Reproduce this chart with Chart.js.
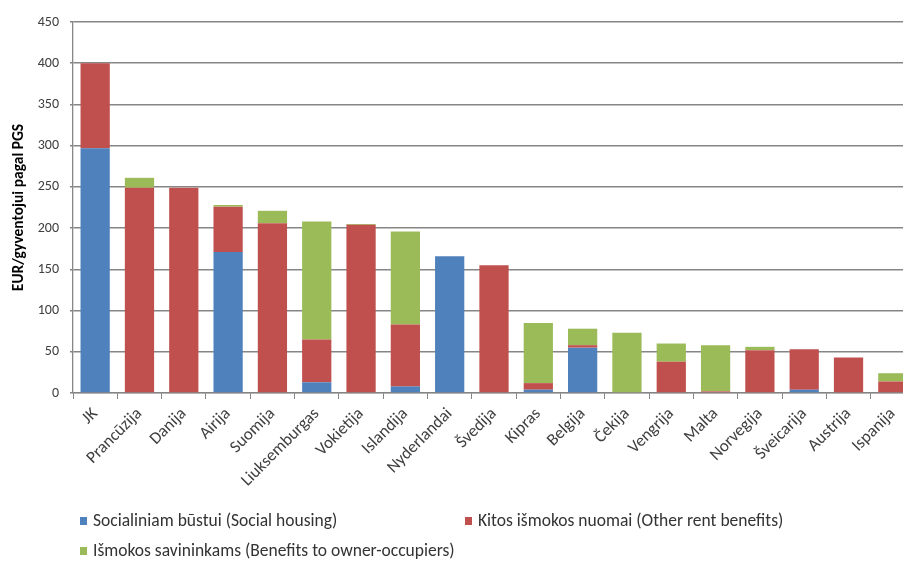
<!DOCTYPE html>
<html>
<head>
<meta charset="utf-8">
<script src="https://cdn.jsdelivr.net/npm/chart.js@4.4.1/dist/chart.umd.min.js"></script>
<style>
  html, body { margin: 0; padding: 0; background: #fff; overflow: hidden; width: 903px; height: 561px; }
  #wrap { position: absolute; left: 0; top: 0; width: 915px; height: 561px; }
  #legend { position: absolute; left: 0; top: 0; width: 903px; height: 561px; pointer-events: none;
    font-family: Carlito, Lato, "Liberation Sans", sans-serif; font-size: 17.5px; color: #333; }
  .li { position: absolute; white-space: nowrap; line-height: 20px; }
  .li span.box { display: inline-block; width: 7px; height: 8px; margin-right: 6px; vertical-align: 1px; }
</style>
</head>
<body>
<div id="wrap"><canvas id="c" width="915" height="561"></canvas></div>
<div id="legend"></div>
<script>
const categories = ["JK","Prancūzija","Danija","Airija","Suomija","Liuksemburgas","Vokietija","Islandija","Nyderlandai","Švedija","Kipras","Belgija","Čekija","Vengrija","Malta","Norvegija","Šveicarija","Austrija","Ispanija"];
const socialHousing = [297, 0, 0, 171, 0, 13, 0, 8, 166, 0, 4, 55, 0, 0, 0, 0, 4, 0, 0];
const otherRent =     [103, 249, 249, 55, 206, 52, 204, 75, 0, 155, 8, 3, 0, 38, 2, 52, 49, 43, 14];
const ownerOcc =      [0, 12, 0, 2, 15, 143, 1, 113, 0, 0, 73, 20, 73, 22, 56, 4, 0, 0, 10];
const yTicks = [0, 50, 100, 150, 200, 250, 300, 350, 400, 450];
const seriesLabels = ["Socialiniam būstui (Social housing)", "Kitos išmokos nuomai (Other rent benefits)", "Išmokos savininkams (Benefits to owner-occupiers)"];
const colors = ["#4F81BD", "#C0504D", "#9BBB59"];

const FONT = "Carlito, Lato, 'Liberation Sans', sans-serif";

new Chart(document.getElementById('c'), {
  type: 'bar',
  data: {
    labels: categories,
    datasets: [
      { label: seriesLabels[0], data: socialHousing, backgroundColor: colors[0] },
      { label: seriesLabels[1], data: otherRent, backgroundColor: colors[1] },
      { label: seriesLabels[2], data: ownerOcc, backgroundColor: colors[2] }
    ]
  },
  options: {
    responsive: false,
    animation: false,
    devicePixelRatio: 1,
    layout: { padding: { top: 22, right: 0, left: 0, bottom: 0 } },
    datasets: { bar: { categoryPercentage: 0.66, barPercentage: 1.0 } },
    plugins: { legend: { display: false }, tooltip: { enabled: false } },
    scales: {
      x: {
        stacked: true,
        afterFit: s => { s.height = 168; s.paddingRight = 0; s.paddingLeft = 0; },
        grid: { display: true, offset: true, drawOnChartArea: false, drawTicks: true, tickLength: 6, color: '#868686', lineWidth: 1 },
        border: { display: true, color: '#868686', width: 1.3 },
        ticks: { autoSkip: false, maxRotation: 45, minRotation: 45, font: { family: FONT, size: 17 }, color: '#404040', padding: 5 }
      },
      y: {
        stacked: true,
        min: 0, max: 450,
        afterFit: s => { s.width = 73; },
        afterBuildTicks: s => { s.ticks = yTicks.map(v => ({ value: v })); },
        grid: { color: '#868686', lineWidth: 1.5, tickLength: 3 },
        border: { display: true, color: '#868686', width: 1.3 },
        ticks: { font: { family: FONT, size: 14 }, color: '#404040', padding: 11 },
        title: { display: true, text: 'EUR/gyventojui pagal PGS', font: { family: FONT, size: 15.5, weight: 'bold' }, color: '#000', padding: { top: 10, bottom: 4 } }
      }
    }
  }
});

// HTML legend
const leg = document.getElementById('legend');
const pos = [[80, 510], [465, 510], [80, 540]];
seriesLabels.forEach((t, i) => {
  const d = document.createElement('div');
  d.className = 'li';
  d.style.left = pos[i][0] + 'px';
  d.style.top = pos[i][1] + 'px';
  d.innerHTML = '<span class="box" style="background:' + colors[i] + '"></span>' + t;
  leg.appendChild(d);
});
</script>
</body>
</html>
